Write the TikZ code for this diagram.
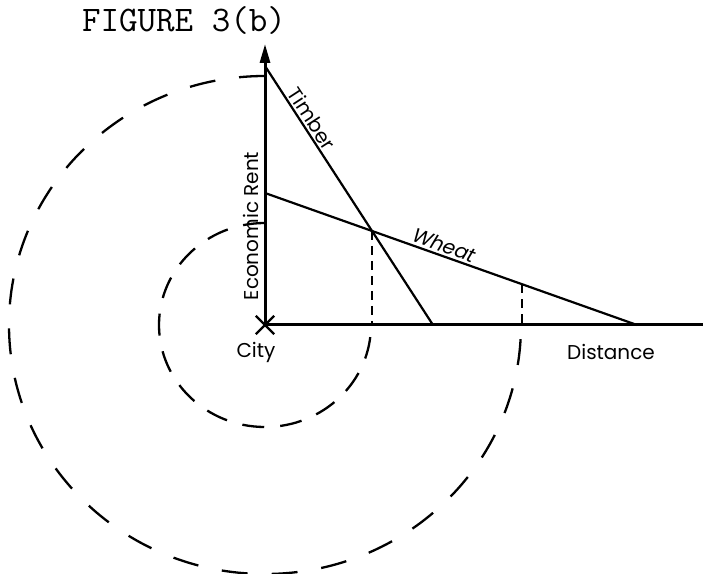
\documentclass[tikz,border=0pt]{standalone}
\usepackage{fontspec}
\newfontfamily\labelfont{Poppins}
\newfontfamily\slabelfont[FakeSlant=0.2]{Poppins}
\usetikzlibrary{arrows.meta,shapes.misc}
\begin{document}
\begin{tikzpicture}[x=1pt,y=1pt,
  axisline/.style={line width=3pt},
  rentline/.style={line width=2.2pt},
  bigring/.style={line width=2.3pt, dash pattern=on 26pt off 24pt},
  smallring/.style={line width=2.3pt, dash pattern=on 22pt off 16pt},
  dropline/.style={line width=2.2pt, dash pattern=on 9pt off 6pt},
  lab/.style={font=\labelfont\fontsize{20}{24}\selectfont, inner sep=0pt},
  slab/.style={font=\slabelfont\fontsize{20}{24}\selectfont, inner sep=0pt},
  titlelab/.style={font=\ttfamily\fontsize{36}{40}\selectfont, inner sep=0pt}]
\useasboundingbox (0,0) rectangle (703,573);
\coordinate (O) at (265,248);
\coordinate (Ytip) at (265,529);
\coordinate (Xend) at (703,248);
\coordinate (T0) at (265,507);
\coordinate (T1) at (433,248);
\coordinate (W0) at (265,380);
\coordinate (W1) at (637,248);
\coordinate (D0) at (522,0);
\coordinate (D1) at (522,500);
\coordinate (I) at (intersection of T0--T1 and W0--W1);
\coordinate (J) at (intersection of W0--W1 and D0--D1);
% dashed rings
\draw[smallring] ([yshift=102pt]O) arc[start angle=90, end angle=360, x radius=106, y radius=102];
\draw[bigring] ([yshift=249pt]O) arc[start angle=90, end angle=360, x radius=256, y radius=249];
% drop lines
\draw[dropline] (I) -- (I |- O);
\draw[dropline] (J) -- (J |- O);
% axes
\draw[axisline] (O) -- (Xend);
\draw[axisline, -{Triangle[length=19pt,width=10pt]}] (O) -- (Ytip);
% rent lines
\draw[rentline] (T0) -- (T1) node[lab, pos=0.225, sloped, above=2pt] (timber) {Timber};
\draw[rentline] (W0) -- (W1) node[slab, pos=0.47, sloped, above=2pt] (wheat) {Wheat};
% city mark
\node[draw, cross out, minimum size=16pt, inner sep=0pt, line width=2.4pt] (X) at (O) {};
% labels
\node[titlelab] (title) at (184,552) {FIGURE 3(b)};
\node[lab, rotate=90] (rent) at (251,347) {Economic Rent};
\node[lab] (city) at (256,221) {City};
\node[lab] (dist) at (611,221) {Distance};
\end{tikzpicture}
\end{document}
